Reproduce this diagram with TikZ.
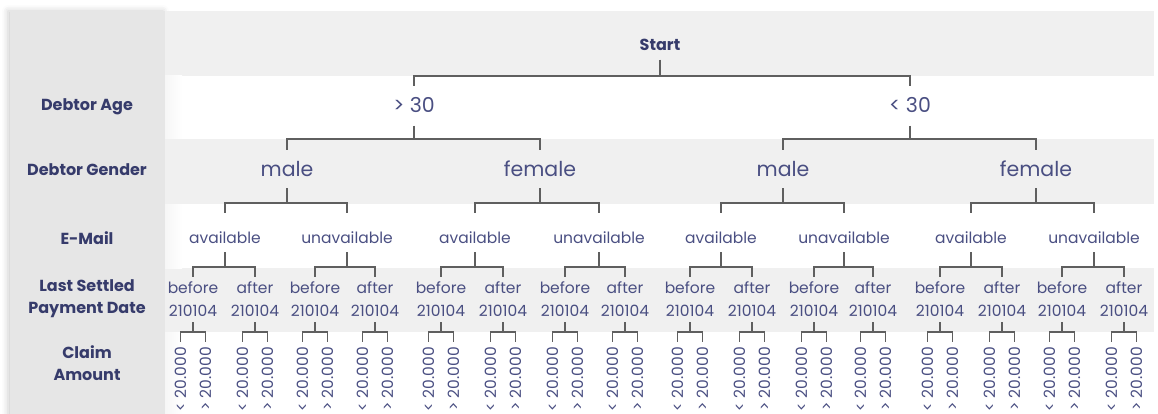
\documentclass[tikz,border=0pt]{standalone}
\usepackage{fontspec}
\setmainfont{Poppins}
\usepackage{tikz}
\usetikzlibrary{shadows.blur}

\definecolor{labelgray}{HTML}{E6E6E6}
\definecolor{rowgray}{HTML}{F0F0F0}
\definecolor{navy}{HTML}{363B6B}
\definecolor{tinted}{HTML}{4A4F82}
\definecolor{linegray}{HTML}{5F5F5F}

\tikzset{
  rowlabel/.style={align=center, text=navy, font=\fontsize{16}{22}\selectfont\bfseries},
  bigchoice/.style={text=tinted, font=\fontsize{20.5}{22}\selectfont},
  choice/.style={text=tinted, font=\fontsize{15.5}{23}\selectfont, align=center, inner sep=0pt},
  leaf/.style={text=tinted, font=\fontsize{15.5}{18}\selectfont, rotate=90, anchor=east, inner sep=0pt},
  branch/.style={draw=linegray, line width=1.6pt}
}

\begin{document}
\begin{tikzpicture}[x=1pt, y=-1pt]
            \useasboundingbox (0,0) rectangle (1158,414);
            % table background
            \fill[labelgray, blur shadow={shadow xshift=-2pt, shadow yshift=0pt, shadow blur radius=6pt, shadow opacity=20}] (10,11) rectangle (165,440);
            \fill[rowgray] (165,11) rectangle (1154,76);
            \fill[rowgray] (165,139) rectangle (1154,204);
            \fill[rowgray] (165,268) rectangle (1154,332);
            \shade[left color=labelgray!35, right color=white] (165,76) rectangle (182,139);
            \shade[left color=labelgray!35, right color=white] (165,204) rectangle (182,268);
            \shade[left color=labelgray!35, right color=white] (165,332) rectangle (182,414);

            % row labels
            \node[rowlabel] (lage) at (87,107) {Debtor Age};
            \node[rowlabel] (lgender) at (87,170) {Debtor Gender};
            \node[rowlabel] (lmail) at (87,238) {E-Mail};
            \node[rowlabel] (ldate) at (87,299) {Last Settled\\Payment Date};
            \node[rowlabel] (lclaim) at (87,363) {Claim\\Amount};

            % tree
            \node[rowlabel] (start) at (660,45) {Start};
            \node[bigchoice] (a1) at (414,105) {> 30};
            \node[bigchoice] (a2) at (910,105) {< 30};
            \node[bigchoice] (g1) at (287,169) {male};
            \node[bigchoice] (g2) at (540,169) {female};
            \node[bigchoice] (g3) at (783,169) {male};
            \node[bigchoice] (g4) at (1036,169) {female};
            \node[choice] (e1) at (225,238) {available};
            \node[choice] (e2) at (347,238) {unavailable};
            \node[choice] (e3) at (475,238) {available};
            \node[choice] (e4) at (599,238) {unavailable};
            \node[choice] (e5) at (721,238) {available};
            \node[choice] (e6) at (844,238) {unavailable};
            \node[choice] (e7) at (971,238) {available};
            \node[choice] (e8) at (1094,238) {unavailable};

            \foreach \c in {a1,a2}
              \draw[branch] (start |- 0,60) -- (start |- 0,76) -| (\c |- 0,86);
            \foreach \p/\c in {a1/g1,a1/g2,a2/g3,a2/g4}
              \draw[branch] (\p |- 0,126) -- (\p |- 0,139) -| (\c |- 0,150);
            \foreach \p/\c in {g1/e1,g1/e2,g2/e3,g2/e4,g3/e5,g3/e6,g4/e7,g4/e8}
              \draw[branch] (\p |- 0,188) -- (\p |- 0,203) -| (\c |- 0,213);

            \foreach \x/\w [count=\i] in {193/before,255/after,315/before,375/after,441/before,503/after,565/before,625/after,690/before,752/after,814/before,873/after,940/before,1002/after,1062/before,1124/after} {
              \pgfmathtruncatemacro\j{(\i+1)/2}
              \node[choice] (d\i) at (\x,299.5) {\w\\210104};
              \draw[branch] (e\j |- 0,252) -- (e\j |- 0,267) -| (d\i |- 0,277);
              \node[leaf] (l\i a) at (\x-12.5,347) {< 20.000};
              \node[leaf] (l\i b) at (\x+12.5,347) {> 20.000};
              \draw[branch] (d\i |- 0,322) -- (d\i |- 0,332) -| (l\i a |- 0,342);
              \draw[branch] (d\i |- 0,332) -| (l\i b |- 0,342);
            }
        \end{tikzpicture}
\end{document}
